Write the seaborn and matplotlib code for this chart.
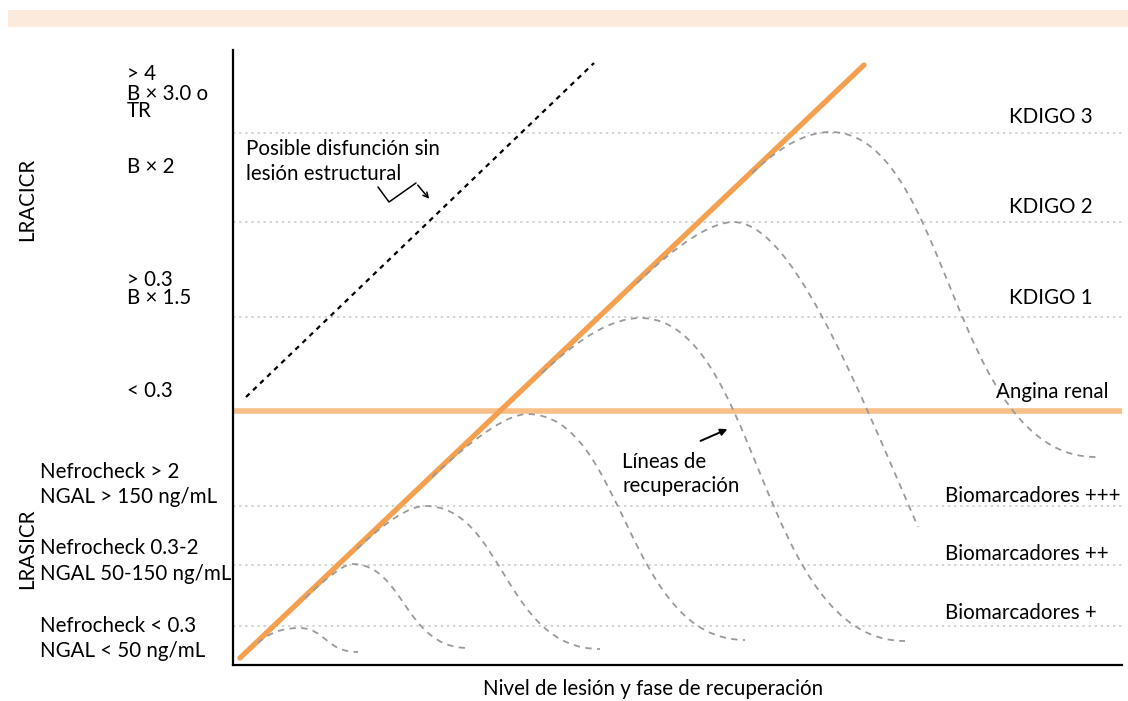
import numpy as np
import pandas as pd
import seaborn as sns
import matplotlib.pyplot as plt
from matplotlib.path import Path
from matplotlib.patches import PathPatch, Rectangle

# levels of the horizontal reference lines (units = px above the x axis)
bio_levels = [39, 100, 159]            # Biomarcadores +, ++, +++
kdigo_levels = [348, 443, 532]         # KDIGO 1, 2, 3
angina_level = 254

# main injury line and "possible dysfunction" line (start, end)
injury_x = [7, 631]
injury_y = [7, 600]
dysf_x = [13, 361]
dysf_y = [268, 602]

# recovery curves: start on injury line, corner, peak, end
rec_start = [(25, 22), (72, 67), (124, 116), (199, 188), (309, 292), (404, 382), (519, 492)]
rec_corner = [(41, 37), (108, 101), (169, 159), (266, 251), (367, 347), (468, 443), (562, 533)]
rec_peak = [(66, 37), (119, 101), (192, 159), (294, 251), (407, 347), (500, 443), (597, 533)]
rec_end = [(125, 13), (235, 17), (367, 16), (512, 25), (672, 24), (685, 138), (863, 208)]
rec_open_end = [False, False, False, False, False, True, False]

W, H = 1128, 701
sns.set_theme(style="white")
plt.rcParams['font.family'] = ['Lato', 'DejaVu Sans']

fig = plt.figure(figsize=(W / 100, H / 100), dpi=100)
ax = fig.add_axes([233 / W, 1 - 665 / H, (1122 - 233) / W, (665 - 50) / H])
ax.set_xlim(0, 889)
ax.set_ylim(0, 615)

# top band
fig.patches.append(Rectangle((8 / W, 1 - 27 / H), 1 - 8 / W, 17 / H, transform=fig.transFigure,
                             facecolor='#fcebdc', edgecolor='none'))

for lv in bio_levels + kdigo_levels:
    ax.axhline(lv, color='#c8c8c8', lw=1.1, ls=(0, (1.5, 2.5)), zorder=1)
ax.axhline(angina_level, color='#f8bf88', lw=4, zorder=2)

df_inj = pd.DataFrame({'x': injury_x, 'y': injury_y})
sns.lineplot(data=df_inj, x='x', y='y', ax=ax, color='#f4a04f', lw=3.8, zorder=3)
df_dys = pd.DataFrame({'x': dysf_x, 'y': dysf_y})
sns.lineplot(data=df_dys, x='x', y='y', ax=ax, color='black', lw=1.6, ls=(0, (2.2, 2.2)), zorder=3)

# recovery lines (dashed gray)
for s, k, p, e, op in zip(rec_start, rec_corner, rec_peak, rec_end, rec_open_end):
    dx = e[0] - p[0]
    if op:
        c1 = (p[0] + 57, p[1])
        c2 = (e[0] - 68, e[1] + 158)
    else:
        c1 = (p[0] + 0.45 * dx, p[1])
        c2 = (e[0] - 0.55 * dx, e[1])
    verts = [s, k, p, c1, c2, e]
    codes = [Path.MOVETO, Path.CURVE3, Path.CURVE3, Path.CURVE4, Path.CURVE4, Path.CURVE4]
    ax.add_patch(PathPatch(Path(verts, codes), facecolor='none', edgecolor='#9a9a9a',
                           lw=1.3, ls=(0, (3.5, 3)), zorder=4))

ax.set_xticks([])
ax.set_yticks([])
ax.set_xlabel('')
ax.set_ylabel('')
for side in ['top', 'right']:
    ax.spines[side].set_visible(False)
for side in ['left', 'bottom']:
    ax.spines[side].set_color('black')
    ax.spines[side].set_linewidth(1.6)


def ftext(px, py, s, **kw):
    kw.setdefault('fontsize', 14.8)
    kw.setdefault('va', 'baseline')
    fig.text(px / W, 1 - py / H, s, color='black', **kw)


# left labels
ftext(127, 80, '> 4')
ftext(127, 100, 'B × 3.0 o')
ftext(127, 117, 'TR')
ftext(127, 173, 'B × 2')
ftext(127, 286, '> 0.3')
ftext(127, 304, 'B × 1.5')
ftext(127, 397, '< 0.3')
ftext(40, 478, 'Nefrocheck > 2')
ftext(40, 503, 'NGAL > 150 ng/mL')
ftext(40, 554, 'Nefrocheck 0.3-2')
ftext(40, 580, 'NGAL 50-150 ng/mL')
ftext(40, 632, 'Nefrocheck < 0.3')
ftext(40, 657, 'NGAL < 50 ng/mL')
ftext(27, 199, 'LRACICR', rotation=90, ha='center', va='center')
ftext(27, 549, 'LRASICR', rotation=90, ha='center', va='center')

# right labels
ftext(1009, 123, 'KDIGO 3')
ftext(1009, 213, 'KDIGO 2')
ftext(1009, 304, 'KDIGO 1')
ftext(996, 398, 'Angina renal')
ftext(945, 502, 'Biomarcadores +++')
ftext(945, 560, 'Biomarcadores ++')
ftext(945, 619, 'Biomarcadores +')

# annotations
ftext(246, 155, 'Posible disfunción sin')
ftext(246, 180, 'lesión estructural')
ftext(622, 468, 'Líneas de')
ftext(622, 492, 'recuperación')
ftext(653, 695, 'Nivel de lesión y fase de recuperación', ha='center')

zig_x = [378 - 233, 389 - 233, 416 - 233]
zig_y = [665 - 187, 665 - 202, 665 - 183]
ax.plot(zig_x, zig_y, color='black', lw=1.1, clip_on=False)
ax.annotate('', xy=(431 - 233, 665 - 201), xytext=(416 - 233, 665 - 183),
            arrowprops=dict(arrowstyle='->', color='black', lw=1.1, mutation_scale=9))
ax.annotate('', xy=(730 - 233, 665 - 428), xytext=(698 - 233, 665 - 442),
            arrowprops=dict(arrowstyle='-|>', color='black', lw=1.4, mutation_scale=10))

fig.savefig('out.png', dpi=100)
